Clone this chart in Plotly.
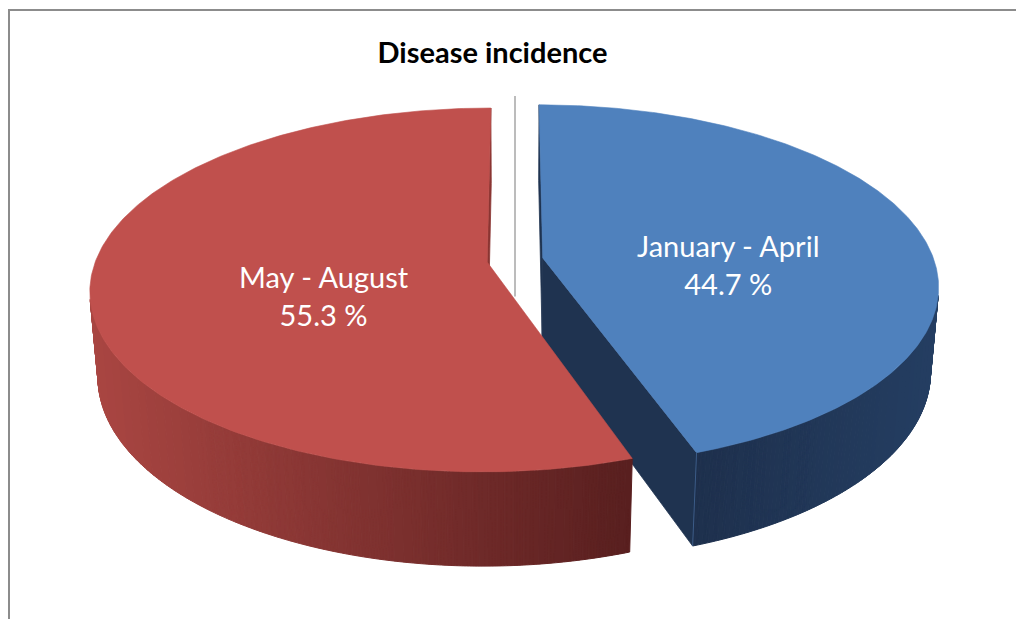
import numpy as np
import plotly.graph_objects as go

# ---------------- data ----------------
categories = ["January - April", "May - August"]
values = [44.7, 55.3]
chart_title = "Disease incidence"

# ---------------- style ----------------
top_colors = ["#4F81BD", "#C0504D"]
wall_light = ["#243E62", "#AA4642"]
wall_dark = ["#1E304D", "#581F1F"]
cut_colors = ["#1F3350", "#8A3532"]
label_r = [0.49, 0.42]
explode = [0.072, 0.072]

W, H = 1016, 619
TILT = np.radians(26.9)
S, C = np.sin(TILT), np.cos(TILT)
DIST = 5.84
FOCAL = 2285
CX, CY = 515, 260
THICK = 0.245
CAM = np.array([0.0, -DIST * C, DIST * S])


def proj(u, v, w):
    u = np.asarray(u, float); v = np.asarray(v, float); w = np.asarray(w, float)
    depth = v * C - w * S + DIST
    return CX + FOCAL * u / depth, CY - FOCAL * (v * S + w * C) / depth


def hex2rgb(h):
    h = h.lstrip("#")
    return np.array([int(h[i:i + 2], 16) for i in (0, 2, 4)], float)


def mix(a, b, f):
    c = hex2rgb(a) * (1 - f) + hex2rgb(b) * f
    return "rgb(%d,%d,%d)" % tuple(np.round(c))


# slice angles (clockwise from 12 o'clock)
total = sum(values)
bounds = np.concatenate([[0], np.cumsum(values) / total * 360.0])
slices = []
for i, cat in enumerate(categories):
    a0, a1 = np.radians(bounds[i]), np.radians(bounds[i + 1])
    mid = (a0 + a1) / 2
    off = explode[i] * np.array([np.sin(mid), np.cos(mid)])
    slices.append(dict(i=i, a0=a0, a1=a1, mid=mid, off=off))

fig = go.Figure()

# thin gray separator line at the pie centre
gx, gy = proj([0, 0], [1.08, -0.2], [0, 0])
fig.add_trace(go.Scatter(x=gx, y=gy, mode="lines", line=dict(color="#A6A6A6", width=1.5),
                         hoverinfo="skip", showlegend=False))


def add_cut_faces(sl):
    ou, ov = sl["off"]
    P = np.array([ou, ov, 0.0])
    for ang, sign in ((sl["a0"], -1), (sl["a1"], 1)):
        n = sign * np.array([np.cos(ang), -np.sin(ang), 0.0])
        if np.dot(n, CAM - P) <= 0:
            continue
        us = [ou, ou + np.sin(ang), ou + np.sin(ang), ou]
        vs = [ov, ov + np.cos(ang), ov + np.cos(ang), ov]
        ws = [0, 0, -THICK, -THICK]
        x, y = proj(us, vs, ws)
        fig.add_trace(go.Scatter(x=list(x) + [x[0]], y=list(y) + [y[0]], mode="lines", fill="toself",
                                 fillcolor=cut_colors[sl["i"]],
                                 line=dict(color=cut_colors[sl["i"]], width=0.8),
                                 hoverinfo="skip", showlegend=False))


def add_wall(sl, light_left):
    ou, ov = sl["off"]
    th = np.linspace(sl["a0"], sl["a1"], 500)
    quads = []
    for k in range(len(th) - 1):
        m = (th[k] + th[k + 1]) / 2
        n = np.array([np.sin(m), np.cos(m), 0.0])
        P = np.array([ou + np.sin(m), ov + np.cos(m), 0.0])
        if np.dot(n, CAM - P) <= 0:
            continue
        t2 = np.array([th[k], th[k + 1], th[k + 1], th[k]])
        us = ou + np.sin(t2); vs = ov + np.cos(t2)
        ws = np.array([0, 0, -THICK, -THICK])
        x, y = proj(us, vs, ws)
        quads.append((x, y))
    if not quads:
        return
    xs_all = np.concatenate([q[0] for q in quads])
    xmin, xmax = xs_all.min(), xs_all.max()
    nb = 64
    bins = {}
    for x, y in quads:
        f = (x.mean() - xmin) / (xmax - xmin)
        if not light_left:
            f = 1 - f
        b = min(nb - 1, int(f * nb))
        bins.setdefault(b, []).append((x, y))
    i = sl["i"]
    for b, qs in sorted(bins.items()):
        col = mix(wall_light[i], wall_dark[i], (b + 0.5) / nb)
        X, Y = [], []
        for x, y in qs:
            X += list(x) + [x[0], None]
            Y += list(y) + [y[0], None]
        fig.add_trace(go.Scatter(x=X, y=Y, mode="lines", fill="toself", fillcolor=col,
                                 line=dict(color=col, width=1), hoverinfo="skip", showlegend=False))


def add_top(sl):
    ou, ov = sl["off"]
    th = np.linspace(sl["a0"], sl["a1"], 300)
    us = np.concatenate([[ou], ou + np.sin(th), [ou]])
    vs = np.concatenate([[ov], ov + np.cos(th), [ov]])
    x, y = proj(us, vs, np.zeros_like(us))
    col = top_colors[sl["i"]]
    fig.add_trace(go.Scatter(x=x, y=y, mode="lines", fill="toself", fillcolor=col,
                             line=dict(color=col, width=0.6), hoverinfo="skip", showlegend=False))


blue, red = slices[0], slices[1]
add_cut_faces(blue)
add_cut_faces(red)
add_wall(red, light_left=True)
add_top(red)
add_wall(blue, light_left=False)
add_top(blue)

# light edge at the blue front corner
ang = blue["a1"]
ou, ov = blue["off"]
ex, ey = proj([ou + np.sin(ang)] * 2, [ov + np.cos(ang)] * 2, [0, -THICK])
fig.add_trace(go.Scatter(x=ex, y=ey, mode="lines", line=dict(color="#3C5C88", width=1),
                         hoverinfo="skip", showlegend=False))

# labels
for sl in slices:
    ou, ov = sl["off"]
    r = label_r[sl["i"]]
    lx, ly = proj(ou + r * np.sin(sl["mid"]), ov + r * np.cos(sl["mid"]), -0.06)
    fig.add_annotation(x=float(lx), y=float(ly), xref="x", yref="y",
                       text=f"{categories[sl['i']]}<br>{values[sl['i']]:.1f} %",
                       showarrow=False, font=dict(family="Lato", size=29, color="white"),
                       align="center")

# chart border
fig.add_shape(type="rect", xref="x", yref="y", x0=9, y0=10, x1=W + 30, y1=H + 30,
              line=dict(color="#8C8C8C", width=2), layer="below")

fig.update_layout(
    width=W, height=H, margin=dict(l=0, r=0, t=0, b=0),
    paper_bgcolor="white", plot_bgcolor="white",
    title=dict(text=f"<b>{chart_title}</b>", x=492.5 / W, y=1 - 53 / H, xanchor="center",
               yanchor="middle", font=dict(family="Lato", size=29, color="black")),
    xaxis=dict(range=[0, W], visible=False, fixedrange=True),
    yaxis=dict(range=[H, 0], visible=False, fixedrange=True),
    showlegend=False,
)

fig.write_html("out.html", config={"displayModeBar": False},
               post_script="document.body.style.margin='0';document.body.style.overflow='hidden';")
